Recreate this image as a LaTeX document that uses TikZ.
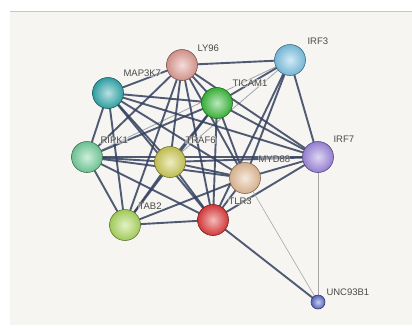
\documentclass[tikz,border=0pt]{standalone}
\usepackage{fontspec}
\setmainfont{Liberation Sans}
\usepackage{tikz}
\usetikzlibrary{shadings,backgrounds}
\definecolor{bgc}{HTML}{F6F5F1}
\definecolor{linkc}{HTML}{34405E}
\definecolor{lblc}{HTML}{4A4A4A}
\definecolor{cly}{HTML}{E09C94}
\definecolor{cirfiii}{HTML}{7EC4E6}
\definecolor{cmap}{HTML}{34AAAE}
\definecolor{ctic}{HTML}{3CBC3C}
\definecolor{crip}{HTML}{74D09C}
\definecolor{ctraf}{HTML}{CECC56}
\definecolor{cmyd}{HTML}{E6BE98}
\definecolor{cirfvii}{HTML}{A088E0}
\definecolor{ctab}{HTML}{AEDA60}
\definecolor{ctlr}{HTML}{E23C3C}
\definecolor{cunc}{HTML}{5C6CCC}
\tikzset{prot/.style={circle, minimum size=31pt, inner sep=0pt, shading=radial, inner color=#1!35!white, outer color=#1!92!black, draw=#1!55!black, line width=0.6pt},
  small prot/.style={prot=#1, minimum size=14pt},
  lbl/.style={anchor=west, inner sep=0.3pt, text=lblc, font=\fontsize{9.5}{10}\selectfont, fill=bgc, fill opacity=0.45, text opacity=1},
  link/.style={draw=linkc, line width=1.9pt, opacity=0.85},
  weak link/.style={draw=gray!70, line width=0.6pt}}

\begin{document}
\begin{tikzpicture}[x=1pt, y=-1pt]
\useasboundingbox (0,0) rectangle (412,327);
% proteins
\node[prot=cly] (ly96) at (182,65) {};
\node[prot=cirfiii] (irf3) at (290,60) {};
\node[prot=cmap] (map3k7) at (108,93) {};
\node[prot=ctic] (ticam1) at (217,103) {};
\node[prot=crip] (ripk1) at (87,157) {};
\node[prot=ctraf] (traf6) at (170,162) {};
\node[prot=cmyd] (myd88) at (245,178) {};
\node[prot=cirfvii] (irf7) at (318,157) {};
\node[prot=ctab] (tab2) at (125,225) {};
\node[prot=ctlr] (tlr3) at (213,220) {};
\node[small prot=cunc] (unc93b1) at (318,302) {};
% names
\node[lbl] (ly96l) at ([shift={(15,-17)}]ly96.center) {LY96};
\node[lbl] (irf3l) at ([shift={(17,-19)}]irf3.center) {IRF3};
\node[lbl] (map3k7l) at ([shift={(15,-20)}]map3k7.center) {MAP3K7};
\node[lbl] (ticam1l) at ([shift={(15,-20)}]ticam1.center) {TICAM1};
\node[lbl] (ripk1l) at ([shift={(13,-17)}]ripk1.center) {RIPK1};
\node[lbl] (traf6l) at ([shift={(15,-22)}]traf6.center) {TRAF6};
\node[lbl] (myd88l) at ([shift={(13,-19)}]myd88.center) {MYD88};
\node[lbl] (irf7l) at ([shift={(15,-18)}]irf7.center) {IRF7};
\node[lbl] (tab2l) at ([shift={(13,-19)}]tab2.center) {TAB2};
\node[lbl] (tlr3l) at ([shift={(15,-19)}]tlr3.center) {TLR3};
\node[lbl] (unc93b1l) at ([shift={(8,-10)}]unc93b1.center) {UNC93B1};
% links
\begin{pgfonlayer}{background}
\fill[white] (0,0) rectangle (412,327);
\fill[bgc] (10,12) rectangle (412,325);
\draw[gray!45, line width=1pt] (10,11.5) -- (412,11.5);
\foreach \a/\b in {ly96/irf3, ly96/map3k7, ly96/ticam1, ly96/ripk1, ly96/traf6,
    ly96/myd88, ly96/tlr3, ly96/tab2, ly96/irf7,
    irf3/ticam1, irf3/myd88, irf3/tlr3, irf3/irf7,
    map3k7/ticam1, map3k7/ripk1, map3k7/traf6, map3k7/tab2, map3k7/tlr3, map3k7/myd88, map3k7/irf7,
    ticam1/ripk1, ticam1/traf6, ticam1/myd88, ticam1/tlr3, ticam1/irf7, ticam1/tab2,
    ripk1/traf6, ripk1/myd88, ripk1/tab2, ripk1/tlr3, ripk1/irf7,
    traf6/myd88, traf6/tab2, traf6/tlr3, traf6/irf7,
    myd88/irf7, myd88/tlr3, myd88/tab2,
    tlr3/irf7, tlr3/tab2, tlr3/unc93b1}
  \draw[link] (\a.center) -- (\b.center);
\draw[link, line width=0.8pt, opacity=0.45] (irf3.center) -- (traf6.center);
\draw[link, line width=0.8pt, opacity=0.45] (irf3.center) -- (ripk1.center);
\draw[weak link] (myd88.center) -- (unc93b1.center);
\draw[weak link] (irf7.center) -- (unc93b1.center);
\end{pgfonlayer}
\end{tikzpicture}
\end{document}
